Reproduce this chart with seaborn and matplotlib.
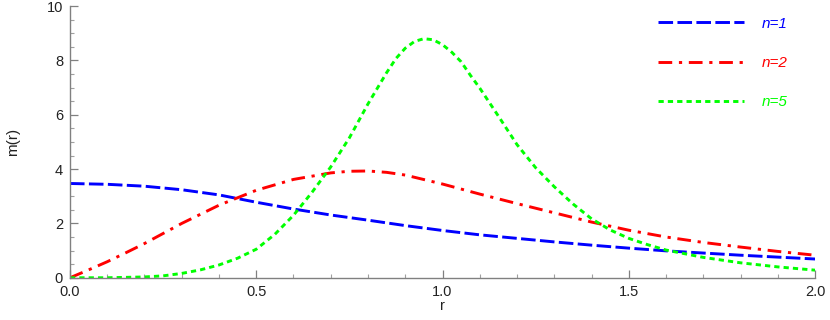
import numpy as np
import pandas as pd
import seaborn as sns
import matplotlib.pyplot as plt
from matplotlib.ticker import MultipleLocator, FormatStrFormatter

# values
r_n1 = [0.0, 0.1, 0.2, 0.3, 0.4, 0.5, 0.6, 0.7, 0.8, 0.9, 1.0,
        1.1, 1.2, 1.3, 1.4, 1.5, 1.6, 1.7, 1.8, 1.9, 2.0]
m_n1 = [3.47, 3.44, 3.37, 3.24, 3.05, 2.78, 2.53, 2.31, 2.12, 1.92, 1.74,
        1.58, 1.45, 1.32, 1.20, 1.09, 0.99, 0.91, 0.83, 0.76, 0.69]

r_n2 = [0.0, 0.05, 0.1, 0.15, 0.2, 0.25, 0.3, 0.4, 0.5, 0.6, 0.7, 0.75, 0.8,
        0.85, 0.9, 1.0, 1.1, 1.2, 1.3, 1.4, 1.5, 1.6, 1.7, 1.8, 1.9, 2.0]
m_n2 = [0.0, 0.29, 0.59, 0.92, 1.26, 1.63, 2.00, 2.67, 3.22, 3.62, 3.86, 3.92, 3.93,
        3.88, 3.78, 3.45, 3.08, 2.73, 2.39, 2.05, 1.75, 1.50, 1.30, 1.13, 0.97, 0.83]

r_n5 = [0.0, 0.1, 0.2, 0.25, 0.3, 0.35, 0.4, 0.45, 0.5, 0.55, 0.6, 0.65, 0.7,
        0.75, 0.8, 0.85, 0.875, 0.9, 0.925, 0.95, 0.975, 1.0, 1.025, 1.05,
        1.075, 1.1, 1.15, 1.2, 1.25, 1.3, 1.35, 1.4, 1.45, 1.5, 1.55, 1.6,
        1.7, 1.8, 1.9, 2.0]
m_n5 = [0.0, 0.0, 0.03, 0.07, 0.16, 0.29, 0.47, 0.72, 1.05, 1.60, 2.30, 3.15, 4.08,
        5.15, 6.40, 7.55, 8.07, 8.45, 8.70, 8.80, 8.76, 8.58, 8.30, 7.95,
        7.45, 6.98, 5.95, 4.90, 4.05, 3.35, 2.72, 2.17, 1.76, 1.45, 1.22, 1.02,
        0.75, 0.55, 0.40, 0.28]

labels = ['n=1', 'n=2', 'n=5']
colors = ['#0000ff', '#ff0000', '#00ff00']
dash_styles = [(5, 1.5), (4.7, 2.3, 1.1, 2.3), (1.8, 1.4)]

sns.set_theme(style="white")
plt.rcParams['font.family'] = ['Liberation Sans', 'DejaVu Sans']

fig = plt.figure(figsize=(8.3, 3.2), dpi=100)
ax = fig.add_axes([0.0843, 0.132, 0.8977, 0.849])

series = [(r_n1, m_n1), (r_n2, m_n2), (r_n5, m_n5)]
for (rr, mm), lab, col, dsh in zip(series, labels, colors, dash_styles):
    df = pd.DataFrame({'r': rr, 'm': mm})
    sns.lineplot(data=df, x='r', y='m', ax=ax, color=col, linewidth=2.1, label=lab)
    ax.lines[-1].set_dashes(dsh)

ax.set_xlim(0, 2)
ax.set_ylim(0, 10)
ax.xaxis.set_major_locator(MultipleLocator(0.5))
ax.xaxis.set_minor_locator(MultipleLocator(0.1))
ax.xaxis.set_major_formatter(FormatStrFormatter('%.1f'))
ax.yaxis.set_major_locator(MultipleLocator(2))
ax.yaxis.set_minor_locator(MultipleLocator(0.5))

for side in ['top', 'right']:
    ax.spines[side].set_visible(False)
for side in ['left', 'bottom']:
    ax.spines[side].set_color('#808080')
    ax.spines[side].set_linewidth(1.0)

ax.tick_params(which='major', direction='in', length=6, width=0.9, color='#808080',
               labelsize=10.5, labelcolor='#222222', left=True, bottom=True)
ax.tick_params(which='minor', direction='in', length=3, width=0.8, color='#a0a0a0',
               left=True, bottom=True)
ax.tick_params(axis='y', pad=5)
ax.tick_params(axis='x', pad=5.2)

ax.set_xlabel('r', fontsize=10.5, color='#222222')
ax.set_ylabel('m(r)', fontsize=11, color='#222222')
ax.xaxis.set_label_coords(0.5, -0.077)
ax.yaxis.set_label_coords(-0.067, 0.5)

leg = ax.legend(loc='upper left', bbox_to_anchor=(0.793, 0.948),
                bbox_transform=fig.transFigure, frameon=False,
                handlelength=5.6, handletextpad=1.2, labelspacing=1.65,
                borderpad=0, borderaxespad=0, labelcolor='linecolor',
                prop={'style': 'italic', 'size': 11})

fig.savefig('out.png', dpi=100)
